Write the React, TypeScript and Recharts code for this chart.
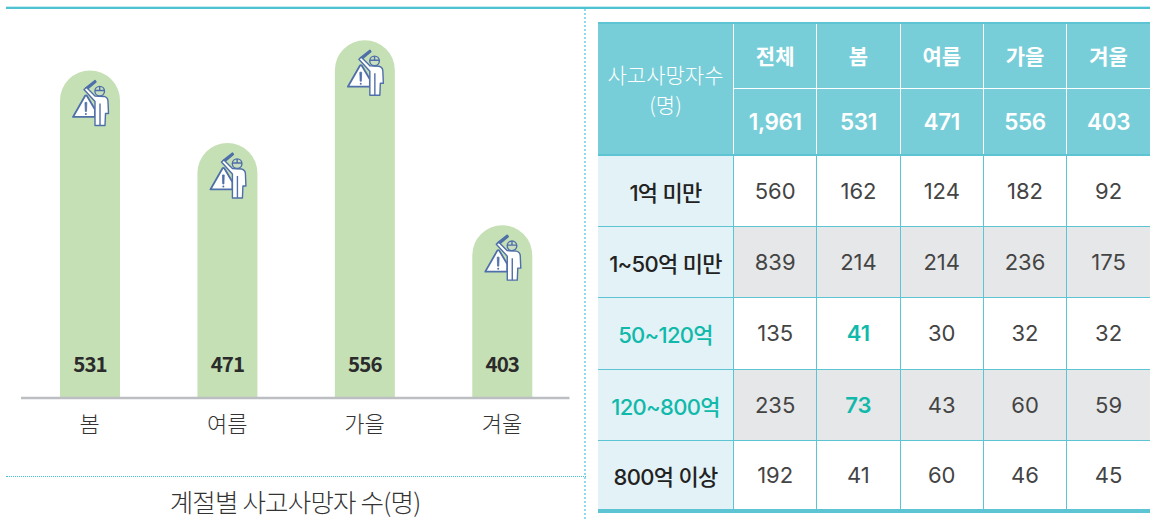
import { BarChart, Bar, XAxis, YAxis, LabelList } from "recharts"

const seasons = ["봄", "여름", "가을", "겨울"]
const deaths = [531, 471, 556, 403]

const tableColumns = ["전체", "봄", "여름", "가을", "겨울"]
const tableTotals = ["1,961", "531", "471", "556", "403"]
const rowLabels = ["1억 미만", "1~50억 미만", "50~120억", "120~800억", "800억 이상"]
const rowAll = [560, 839, 135, 235, 192]
const rowSpring = [162, 214, 41, 73, 41]
const rowSummer = [124, 214, 30, 43, 60]
const rowAutumn = [182, 236, 32, 60, 46]
const rowWinter = [92, 175, 32, 59, 45]

const chartData = seasons.map((name, i) => ({ name, deaths: deaths[i] }))
const rowValues = [rowAll, rowSpring, rowSummer, rowAutumn, rowWinter]

const KR = '"Noto Sans CJK KR", sans-serif'
const TABLE_FONT = 'Inter, "Noto Sans CJK KR", sans-serif'
const TEAL = "#5cc4d2"
const ACCENT = "#10b9aa"
const ICON = "#4f6fa8"

// worker with warning sign, drawn relative to the top centre of the bar
function WorkerIcon(props: any) {
  const cx = props.x + props.width / 2
  const top = props.y
  return (
    <g transform={`translate(${cx},${top})`} fill="#fff" stroke={ICON} strokeWidth={1.4} strokeLinejoin="round">
      <path d="M5 10 L6 11.5 L-3 19 L-4.5 17.5 Z" fill={ICON} />
      <path d="M-17 46.5 L-5 25.5 Q-4 24.5 -3 25.5 L5 39 L5 46.5 Z" strokeWidth={1.8} />
      <path d="M-5 32 L-3.2 32 L-3.5 41 L-4.7 41 Z" fill={ICON} strokeWidth={0.8} />
      <circle cx={-4.1} cy={43.5} r={1} fill={ICON} stroke="none" />
      <path d="M-6 19 L-3.5 17 L5 25.5 L14 26 Q18 27 18 31 L18.5 43 L15.5 43 L15 55 L5 55 L5 31 Z" />
      <path d="M10 33 L10 55" />
      <circle cx={9.7} cy={20.7} r={4.8} fill="#c9dfc0" />
      <path d="M5 20 L14.5 20 M9.7 16 L9.7 20" />
    </g>
  )
}

export default function App() {
  return (
    <div style={{ position: "absolute", left: 0, top: 0, width: 1166, height: 519, background: "#fff", overflow: "hidden" }}>
      <div style={{ position: "absolute", left: 6, top: 6, width: 1144, height: 3, background: "#c5edf2" }} />
      <div style={{ position: "absolute", left: 6, top: 7, width: 1144, height: 2, background: "#4fc2d2" }} />
      <div style={{ position: "absolute", left: 584, top: 9, height: 510, borderLeft: "2px dotted #8ddde6" }} />
      <div style={{ position: "absolute", left: 6, top: 476, width: 580, borderTop: "1px dotted #40c4d2" }} />

      <div style={{ position: "absolute", left: 0, top: 0 }}>
        <BarChart
          width={571}
          height={441}
          data={chartData}
          margin={{ top: 10, right: 1.5, bottom: 0, left: 21 }}
          barSize={60}
        >
          <XAxis
            dataKey="name"
            height={43}
            padding={{ left: 0, right: -1.2 }}
            tickLine={false}
            axisLine={{ stroke: "#bdbec2", strokeWidth: 2.5 }}
            tick={{ fill: "#333", fontSize: 22, fontFamily: KR, fontWeight: 300 }}
            tickMargin={12}
            interval={0}
          />
          <YAxis hide domain={[260, 581]} />
          <Bar dataKey="deaths" fill="#c6e0b6" radius={[30, 30, 0, 0]} isAnimationActive={false}>
            <LabelList dataKey="deaths" content={<WorkerIcon />} />
            <LabelList
              dataKey="deaths"
              position="insideBottom"
              offset={26}
              fill="#2b2b2b"
              style={{ fontSize: 20.5, fontWeight: 700, fontFamily: KR, letterSpacing: -0.9 }}
            />
          </Bar>
        </BarChart>
      </div>

      <div style={{ position: "absolute", left: 0, top: 483, width: 590, textAlign: "center", fontFamily: KR, fontSize: 25.5, lineHeight: "36px", color: "#333", fontWeight: 300, letterSpacing: -0.8 }}>
        계절별 사고사망자 수(명)
      </div>

      <table style={{ position: "absolute", left: 598, top: 22, width: 552, height: 487, borderCollapse: "collapse", tableLayout: "fixed", fontFamily: TABLE_FONT, textAlign: "center" }}>
        <colgroup>
          <col style={{ width: 135.5 }} />
          {tableColumns.map((c) => (
            <col key={c} style={{ width: 83.3 }} />
          ))}
        </colgroup>
        <tbody>
          <tr style={{ height: 65.5, background: "#78ced8", color: "#fff", borderTop: `2px solid ${TEAL}` }}>
            <td rowSpan={2} style={{ fontSize: 21, lineHeight: "30px", paddingBottom: 0, fontFamily: KR, fontWeight: 300, borderBottom: `2px solid ${TEAL}` }}>
              사고사망자수
              <br />
              (명)
            </td>
            {tableColumns.map((c) => (
              <td key={c} style={{ fontSize: 21, fontWeight: 700, fontFamily: KR, borderLeft: "1.5px solid #fff", borderBottom: "1.5px solid #fff", paddingBottom: 4 }}>
                {c}
              </td>
            ))}
          </tr>
          <tr style={{ height: 66, background: "#78ced8", color: "#fff" }}>
            {tableTotals.map((c) => (
              <td key={c} style={{ fontSize: 22.5, fontWeight: 600, letterSpacing: -0.4, borderLeft: "1.5px solid #fff", borderBottom: `2px solid ${TEAL}` }}>
                {c}
              </td>
            ))}
          </tr>
          {rowLabels.map((label, r) => {
            const hot = r === 2 || r === 3
            const last = r === rowLabels.length - 1
            const border = `1.5px solid ${TEAL}`
            return (
              <tr key={label} style={{ height: last ? 70 : 71.5, background: r % 2 === 1 ? "#e6e7e9" : "#fff", borderBottom: last ? `4px solid ${TEAL}` : border }}>
                <td style={{ background: "#e2f2f6", color: hot ? ACCENT : "#222", fontSize: 22, fontWeight: 500, letterSpacing: -0.7, whiteSpace: "nowrap" }}>
                  {label}
                </td>
                {rowValues.map((col, c) => (
                  <td
                    key={c}
                    style={{
                      borderLeft: border,
                      fontSize: 22,
                      color: hot && c === 1 ? ACCENT : "#444",
                      fontWeight: hot && c === 1 ? 600 : 400,
                    }}
                  >
                    {col[r]}
                  </td>
                ))}
              </tr>
            )
          })}
        </tbody>
      </table>
    </div>
  )
}
